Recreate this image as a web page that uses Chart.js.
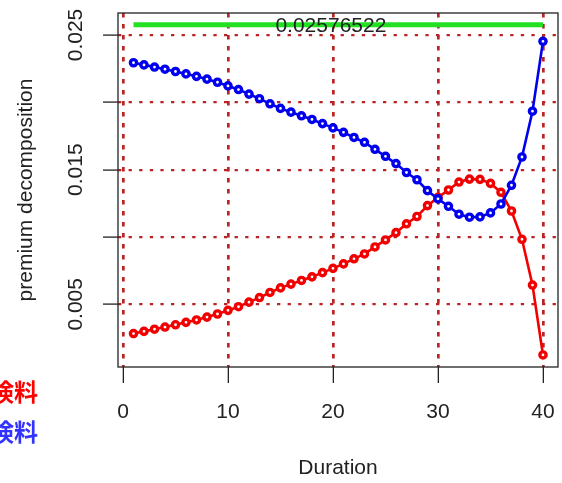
<!DOCTYPE html>
<html><head><meta charset="utf-8">
<script src="https://cdn.jsdelivr.net/npm/chart.js@4/dist/chart.umd.min.js"></script>
<style>html,body{margin:0;padding:0;background:#fff;overflow:hidden;}</style>
</head><body>
<canvas id="c" width="562" height="483"></canvas>
<script>
const durations = [1,2,3,4,5,6,7,8,9,10,11,12,13,14,15,16,17,18,19,20,21,22,23,24,25,26,27,28,29,30,31,32,33,34,35,36,37,38,39,40];
const riskPremium = [0.00283,0.00299,0.00315,0.00331,0.00348,0.00366,0.00384,0.00405,0.00428,0.00455,0.00482,0.00516,0.00550,0.00588,0.00622,0.00650,0.00677,0.00704,0.00735,0.00767,0.00800,0.00838,0.00874,0.00926,0.00978,0.01032,0.01098,0.01152,0.01233,0.01294,0.01349,0.01408,0.01430,0.01428,0.01398,0.01332,0.01193,0.00983,0.00643,0.00124];
const savingsPremium = [0.02294,0.02278,0.02262,0.02246,0.02229,0.02211,0.02193,0.02172,0.02149,0.02122,0.02095,0.02061,0.02027,0.01989,0.01955,0.01927,0.01900,0.01873,0.01842,0.01810,0.01777,0.01739,0.01703,0.01651,0.01599,0.01545,0.01479,0.01425,0.01344,0.01283,0.01228,0.01169,0.01147,0.01149,0.01179,0.01245,0.01384,0.01594,0.01934,0.02453];
const totalPremium = 0.02576522;
const totalSpan = [1, 40];
const totalLabel = '0.02576522';
const totalLabelX = 19.8;
const xTicks = [0, 10, 20, 30, 40];
const yTicks = [0.005, 0.010, 0.015, 0.020, 0.025];
const yTickLabels = ['0.005', '', '0.015', '', '0.025'];
const seriesLabels = ['危険保険料', '貯蓄保険料'];
const xTitle = 'Duration';
const yTitle = 'premium decomposition';

const FONT = "'Liberation Sans', Arial, sans-serif";
const RED = '#f20000';
const BLUE = '#0000ee';
const GRID = '#bb2424';

const overlay = {
  id: 'overlay',
  afterDraw(chart) {
    const ctx = chart.ctx, a = chart.chartArea;
    const xs = chart.scales.x, ys = chart.scales.y;
    ctx.save();
    ctx.strokeStyle = '#222';
    ctx.lineWidth = 1.3;
    ctx.setLineDash([]);
    ctx.strokeRect(a.left, a.top, a.right - a.left, a.bottom - a.top);
    ctx.fillStyle = '#222';
    ctx.font = '21px ' + FONT;
    ctx.textAlign = 'center';
    ctx.textBaseline = 'middle';
    ctx.fillText(totalLabel, xs.getPixelForValue(totalLabelX), ys.getPixelForValue(totalPremium) + 2);
    yTicks.forEach((v, i) => {
      if (!yTickLabels[i]) return;
      ctx.save();
      ctx.translate(76, ys.getPixelForValue(v));
      ctx.rotate(-Math.PI / 2);
      ctx.fillText(yTickLabels[i], 0, 0);
      ctx.restore();
    });
    ctx.save();
    ctx.translate(26, (a.top + a.bottom) / 2);
    ctx.rotate(-Math.PI / 2);
    ctx.fillText(yTitle, 0, 0);
    ctx.restore();
    ctx.fillText(xTitle, (a.left + a.right) / 2, 468);
    ctx.font = "bold 24px 'Noto Sans CJK JP', sans-serif";
    ctx.textAlign = 'right';
    ctx.fillStyle = '#ff0000';
    ctx.fillText(seriesLabels[0], 38, 392);
    ctx.fillStyle = '#3333ff';
    ctx.fillText(seriesLabels[1], 38, 432);
    ctx.restore();
  }
};

new Chart(document.getElementById('c'), {
  type: 'line',
  data: {
    datasets: [
      {
        label: 'total',
        data: totalSpan.map(d => ({x: d, y: totalPremium})),
        borderColor: '#22e022',
        borderWidth: 5,
        pointRadius: 0,
        order: 3
      },
      {
        label: seriesLabels[1],
        data: durations.map((d, i) => ({x: d, y: savingsPremium[i]})),
        borderColor: BLUE,
        borderWidth: 2.6,
        pointRadius: 3.1,
        pointBorderWidth: 3.4,
        pointBackgroundColor: '#fff',
        pointBorderColor: BLUE,
        tension: 0,
        order: 1
      },
      {
        label: seriesLabels[0],
        data: durations.map((d, i) => ({x: d, y: riskPremium[i]})),
        borderColor: RED,
        borderWidth: 2.6,
        pointRadius: 3.1,
        pointBorderWidth: 3.4,
        pointBackgroundColor: '#fff',
        pointBorderColor: RED,
        tension: 0,
        order: 2
      }
    ]
  },
  options: {
    responsive: false,
    animation: false,
    devicePixelRatio: 1,
    layout: {autoPadding: false, padding: {top: 13, right: 4, left: 0, bottom: 0}},
    plugins: {legend: {display: false}, tooltip: {enabled: false}},
    scales: {
      x: {
        type: 'linear',
        min: -0.476,
        max: 41.43,
        z: 1,
        afterBuildTicks: s => { s.ticks = xTicks.map(v => ({value: v})); },
        afterFit: s => { s.height = 116; s.paddingLeft = 0; s.paddingRight = 0; },
        ticks: {
          autoSkip: false, maxRotation: 0, minRotation: 0,
          font: {size: 21, family: FONT}, color: '#222', padding: 17,
          callback: v => String(v)
        },
        grid: {color: GRID, lineWidth: 2.7, tickLength: 16, tickColor: '#222', tickWidth: 1.3, tickBorderDash: []},
        border: {display: false, dash: [4.5, 6.5]}
      },
      y: {
        type: 'linear',
        min: 0.000344,
        max: 0.026634,
        z: 1,
        afterBuildTicks: s => { s.ticks = yTicks.map(v => ({value: v})); },
        afterFit: s => { s.width = 118; s.paddingTop = 0; s.paddingBottom = 0; },
        ticks: {display: false},
        grid: {color: GRID, lineWidth: 2.2, tickLength: 15, tickColor: '#222', tickWidth: 1.3, tickBorderDash: []},
        border: {display: false, dash: [3.3, 7.3]}
      }
    }
  },
  plugins: [overlay]
});
</script>
</body></html>
